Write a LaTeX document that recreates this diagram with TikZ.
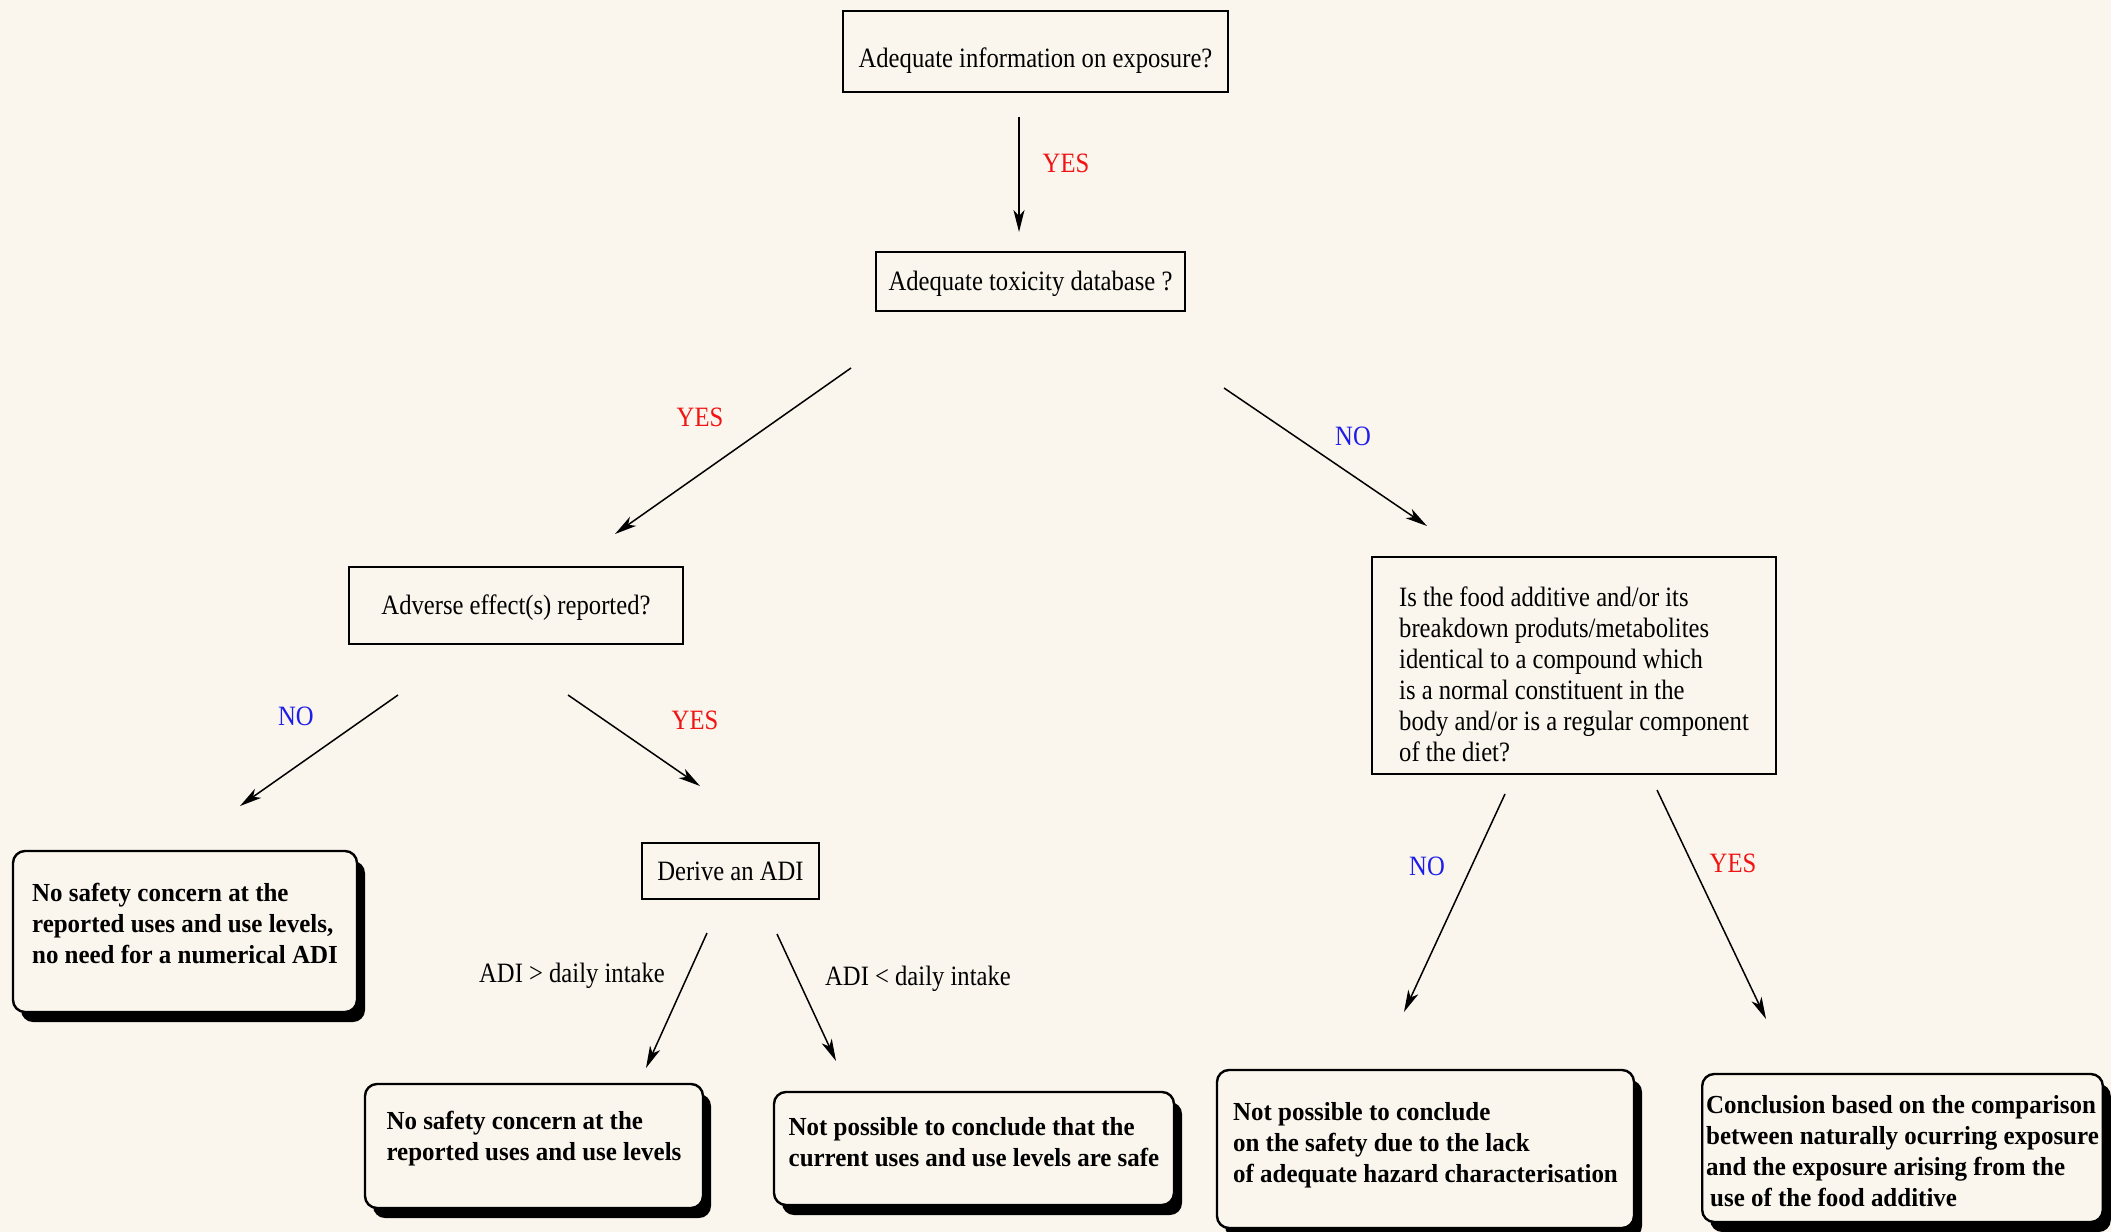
\documentclass[tikz,border=0pt]{standalone}
\usepackage{fontspec}
\setmainfont{Liberation Serif}[FakeStretch=0.88]
\newfontfamily\resfont{Liberation Serif}[FakeStretch=0.96]
\usetikzlibrary{arrows.meta,shadows}

\definecolor{paper}{RGB}{250,246,237}
\definecolor{yesred}{RGB}{240,20,20}
\definecolor{noblue}{RGB}{30,30,235}

\tikzset{
    qbox/.style={draw, line width=1.3pt, inner sep=2pt, align=left,
        font=\fontsize{14}{15.5}\selectfont},
    resbox/.style={draw, line width=1.2pt, rounded corners=6pt, fill=paper,
        inner sep=2pt, align=left,
        font=\resfont\bfseries\fontsize{13}{15.5}\selectfont,
        drop shadow={shadow xshift=4pt, shadow yshift=-5pt, fill=black, opacity=1}},
    arr/.style={->, line width=0.75pt},
    lbl/.style={font=\fontsize{14}{15.5}\selectfont},
    yeslbl/.style={lbl, text=yesred},
    nolbl/.style={lbl, text=noblue}
}

\begin{document}
\begin{tikzpicture}[x=0.5pt, y=-0.5pt, >={Stealth[length=11pt, width=5.5pt, inset=3pt]}]
    \fill[paper] (0,0) rectangle (2111,1232);
    \useasboundingbox (0,0) rectangle (2111,1232);

    % questions
    \node[qbox, minimum width=192.5pt, minimum height=40.5pt,
        text height=19pt, text depth=3pt] (info) at (1035.5,51.5)
        {Adequate information on exposure?};
    \node[qbox, minimum width=154.5pt, minimum height=29.5pt,
        text height=12.2pt, text depth=3pt] (tox) at (1030.5,281.5)
        {Adequate toxicity database ?};
    \node[qbox, minimum width=167pt, minimum height=38.5pt,
        text height=12.2pt, text depth=3pt] (adverse) at (516,605.5)
        {Adverse effect(s) reported?};
    \node[qbox, minimum width=88.5pt, minimum height=28pt] (derive) at (730.5,871)
        {Derive an ADI};
    \node[qbox, minimum width=202pt, minimum height=108.5pt,
        text height=99.1pt, text depth=3pt] (foodq) at (1574,665.5)
        {Is the food additive and/or its\\
         breakdown produts/metabolites\\
         identical to a compound which\\
         is a normal constituent in the\\
         body and/or is a regular component\\
         of the diet?};

    % conclusions
    \node[resbox, minimum width=172pt, minimum height=80.5pt,
        text height=34.5pt, text depth=2.8pt] (nonum) at (185,931.5)
        {No safety concern at the\\
         reported uses and use levels,\\
         no need for a numerical ADI};
    \node[resbox, minimum width=169pt, minimum height=62pt,
        text height=17.6pt, text depth=2.8pt] (safe) at (534,1146)
        {No safety concern at the\\
         reported uses and use levels};
    \node[resbox, minimum width=200pt, minimum height=56.5pt,
        text height=20.4pt, text depth=2.8pt] (unsafe) at (974,1148.5)
        {Not possible to conclude that the\\
         current uses and use levels are safe};
    \node[resbox, minimum width=208.5pt, minimum height=79pt,
        text height=35.9pt, text depth=2.8pt] (nohazard) at (1425.5,1149)
        {Not possible to conclude\\
         on the safety due to the lack\\
         of adequate hazard characterisation};
    \node[resbox, minimum width=199.5pt, minimum height=74pt,
        text height=60.8pt, text depth=2.8pt] (compare) at (1902.5,1148)
        {Conclusion based on the comparison\\
         between naturally ocurring exposure\\
         and the exposure arising from the\\
         \hspace{2pt}use of the food additive};

    % arrow ends
    \coordinate (infoOut) at (1019,117);
    \coordinate (toxIn) at (1019,232);
    \coordinate (toxYes) at (851,368);
    \coordinate (adverseIn) at (615,534);
    \coordinate (toxNo) at (1224,388);
    \coordinate (foodqIn) at (1427,526);
    \coordinate (adverseNo) at (398,695);
    \coordinate (nonumIn) at (240,806);
    \coordinate (adverseYes) at (568,695);
    \coordinate (deriveIn) at (700,786);
    \coordinate (deriveGt) at (707,933);
    \coordinate (safeIn) at (646,1068);
    \coordinate (deriveLt) at (777,934);
    \coordinate (unsafeIn) at (836,1061);
    \coordinate (foodqNo) at (1505,794);
    \coordinate (nohazardIn) at (1404,1012);
    \coordinate (foodqYes) at (1657,790);
    \coordinate (compareIn) at (1766,1019);

    \draw[arr] (infoOut) -- (toxIn);
    \draw[arr] (toxYes) -- (adverseIn);
    \draw[arr] (toxNo) -- (foodqIn);
    \draw[arr] (adverseNo) -- (nonumIn);
    \draw[arr] (adverseYes) -- (deriveIn);
    \draw[arr] (deriveGt) -- (safeIn);
    \draw[arr] (deriveLt) -- (unsafeIn);
    \draw[arr] (foodqNo) -- (nohazardIn);
    \draw[arr] (foodqYes) -- (compareIn);

    \node[yeslbl] (yes1) at (1066,163) {YES};
    \node[yeslbl] (yes2) at (700,417) {YES};
    \node[nolbl] (no1) at (1353,436) {NO};
    \node[nolbl] (no2) at (296,716) {NO};
    \node[yeslbl] (yes3) at (695,720) {YES};
    \node[lbl] (gt) at (572,976) {ADI > daily intake};
    \node[lbl] (lt) at (918,979) {ADI < daily intake};
    \node[nolbl] (no3) at (1427,866) {NO};
    \node[yeslbl] (yes4) at (1733,863) {YES};
\end{tikzpicture}
\end{document}
